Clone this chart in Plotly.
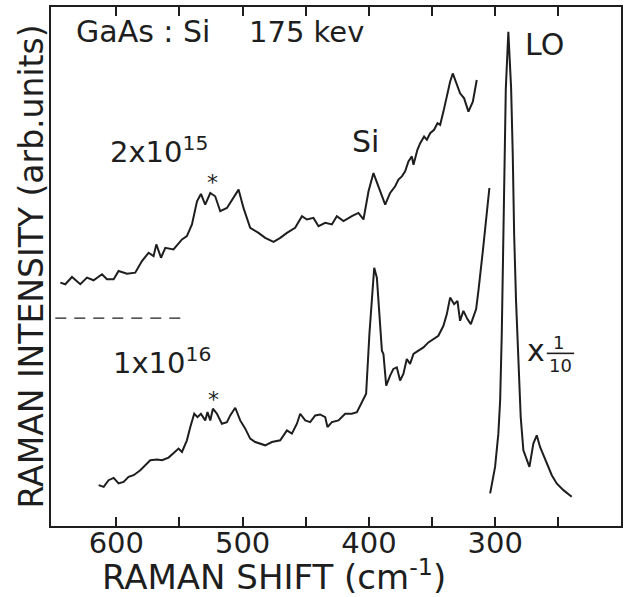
import plotly.graph_objects as go

# ---- data (wavenumber in cm^-1, intensity in arbitrary units) ----
upper_shift = [644.3, 640.4, 635.1, 628.5, 623.2, 618.0, 611.3, 607.4, 602.1, 598.2, 591.5, 585.0,
               579.7, 574.4, 570.5, 568.3, 564.6, 561.2, 554.7, 548.0, 544.1, 540.1, 536.1, 533.0,
               529.6, 525.6, 521.7, 517.7, 512.4, 507.2, 503.2, 499.3, 494.0, 487.4, 482.1, 475.5,
               470.2, 464.9, 458.4, 453.0, 449.1, 443.9, 439.9, 434.6, 429.3, 425.4, 420.1, 413.5,
               408.3, 404.3, 400.3, 396.4, 392.4, 387.1, 383.2, 379.2, 376.6, 373.9, 371.3, 368.7,
               366.0, 364.7, 361.6, 359.4, 356.3, 354.1, 351.5, 348.4, 345.7, 343.6, 341.0, 338.3,
               335.7, 333.6, 330.4, 327.8, 324.6, 321.2, 317.7, 314.6]
upper_int = [244.3, 242.7, 250, 242.7, 249.3, 246.7, 252.7, 247.7, 247.7, 256, 253.3, 254.3,
             266, 274.3, 271, 282.7, 269.3, 279.3, 277.7, 287.7, 291, 302.7, 326, 333.3,
             322.7, 334.3, 331, 316, 319.3, 329.3, 337.7, 319.3, 299.3, 294.3, 289.3, 285.3,
             289.3, 294.3, 299.3, 311, 307.7, 309.3, 301, 304.3, 302.7, 311, 306, 311,
             314.3, 307.7, 336, 354.3, 341, 322.7, 334.3, 341, 347.7, 351, 356, 366,
             371, 362.7, 377.7, 384.3, 391, 387.7, 394.3, 397.7, 404.3, 402.7, 416, 432.7,
             446, 454.3, 442.7, 434.3, 429.3, 416, 426, 447.7]

lower_shift = [614.0, 610.0, 606.1, 602.1, 598.2, 594.2, 590.3, 586.3, 581.0, 577.1, 573.1, 567.8,
               563.8, 558.6, 554.7, 550.7, 548.0, 544.1, 541.4, 538.3, 535.7, 533.0, 529.6, 527.8,
               525.6, 523.5, 520.3, 516.4, 512.4, 509.8, 505.8, 501.9, 497.9, 494.0, 490.0, 486.0,
               482.1, 476.8, 470.2, 464.9, 461.0, 457.0, 454.4, 450.4, 446.5, 442.5, 438.6, 434.6,
               432.8, 429.3, 424.1, 418.8, 413.5, 409.5, 407.5, 402.2, 399.6, 397.7, 395.8, 393.7,
               391.6, 389.7, 388.5, 386.3, 383.2, 380.6, 377.9, 375.3, 372.7, 370.0, 367.4, 364.7,
               360.8, 356.8, 352.9, 348.9, 345.0, 341.0, 338.3, 335.7, 332.5, 329.9, 327.8, 325.2,
               322.0, 319.3, 316.7, 315.1, 313.3, 311.4, 309.8, 304.6]
lower_int = [41, 39.3, 46, 48.3, 42.7, 44.3, 49.3, 51, 56, 61, 66, 66.7,
             66, 68.7, 72.7, 77.7, 74.3, 86, 99.3, 112.7, 109.3, 112.7, 106, 114.3,
             106, 117.7, 112.7, 102.7, 104.3, 111, 118.7, 106, 97.7, 87.7, 84.3, 82.7,
             81, 84.3, 86, 96, 92.7, 102.7, 112.7, 106, 104.3, 111, 112, 109.3,
             99.3, 104.3, 106, 112.7, 112.7, 114.3, 119.3, 132.7, 192.7, 226, 259.3, 249.3,
             209.3, 176, 172.7, 141, 151, 157.7, 159.3, 146, 152.7, 167.7, 162.7, 172.7,
             176, 179.3, 184.3, 187.7, 191, 201, 212.7, 229.3, 222.7, 226, 206, 216,
             207.7, 202.7, 212.7, 217.7, 236, 256, 276, 339.3]

lo_shift = [304.0, 300.1, 297.5, 296.1, 294.8, 294.0, 293.2, 292.8, 291.6, 289.6, 287.4, 286.1,
            285.3, 285.0, 283.5, 281.6, 279.8, 277.7, 274.5, 272.9, 269.8, 267.1, 264.5, 259.2,
            255.2, 251.3, 246.0, 239.4]
lo_int = [32.7, 59.3, 92.7, 126, 192.7, 259.3, 326, 372.7, 439.3, 496, 439.3, 372.7,
          306, 292.7, 226, 159.3, 109.3, 76, 64.3, 59.3, 82.7, 91, 79.3, 62.7,
          51, 42.7, 36, 29.3]

baseline_shift = [648.3, 547.0]
baseline_int = [208.7, 208.7]

major_ticks = [600, 500, 400, 300]
major_labels = ["600", "500", "400", "300"]
minor_ticks = [550, 450, 350, 250]

INK = "#1e1e1e"
FONT = "DejaVu Sans"

fig = go.Figure()
line_style = dict(color=INK, width=2)
fig.add_trace(go.Scatter(x=upper_shift, y=upper_int, mode="lines", line=line_style, hoverinfo="skip"))
fig.add_trace(go.Scatter(x=lower_shift, y=lower_int, mode="lines", line=line_style, hoverinfo="skip"))
fig.add_trace(go.Scatter(x=lo_shift, y=lo_int, mode="lines", line=line_style, hoverinfo="skip"))
fig.add_trace(go.Scatter(x=baseline_shift, y=baseline_int, mode="lines",
                         line=dict(color=INK, width=1.4, dash="11px,8px"), hoverinfo="skip"))

def note(text, x, y, size=30, xanchor="center", yanchor="middle", **kw):
    fig.add_annotation(text=text, x=x, y=y, xref="x", yref="y", showarrow=False,
                       xanchor=xanchor, yanchor=yanchor,
                       font=dict(family=FONT, size=size, color=INK), **kw)

note("GaAs : Si", 633.5, 496, size=30, xanchor="left")
note("175 kev", 496.3, 496, size=29, xanchor="left")
note("2x10<sup>15</sup>", 606.3, 377, size=29, xanchor="left")
note("Si", 403, 386)
note("LO", 261.3, 483)
note("1x10<sup>16</sup>", 604.0, 166, size=29, xanchor="left")
note("*", 523.5, 345, size=22)
note("*", 523.0, 127, size=22)
note("x", 267.6, 176, size=30)
note("1", 249.5, 184, size=18)
note("10", 248.0, 161, size=18)
fig.add_shape(type="line", x0=259.2, x1=237.5, y0=173.3, y1=173.3, xref="x", yref="y",
              line=dict(color=INK, width=1.6))

# axis titles as annotations for exact placement
fig.add_annotation(text="RAMAN SHIFT (cm<sup>-1</sup>)", x=475, y=0, xref="x", yref="paper",
                   yanchor="middle", yshift=-49, showarrow=False,
                   font=dict(family=FONT, size=34, color=INK))
fig.add_annotation(text="RAMAN INTENSITY (arb.units)", x=0, y=0.5, xref="paper", yref="paper",
                   xanchor="center", yanchor="middle", xshift=-20, textangle=-90, showarrow=False,
                   font=dict(family=FONT, size=33, color=INK))

fig.update_xaxes(range=[651.7, 200.4], tickmode="array", tickvals=major_ticks, ticktext=major_labels,
                 ticks="inside", ticklen=9, tickwidth=2, tickcolor=INK,
                 minor=dict(tickmode="array", tickvals=minor_ticks, ticks="inside",
                            ticklen=9, tickwidth=2, tickcolor=INK, showgrid=False),
                 showline=True, linecolor=INK, linewidth=2, mirror="allticks",
                 showgrid=False, zeroline=False,
                 tickfont=dict(family=FONT, size=29, color=INK), ticklabelstandoff=-10)
fig.update_yaxes(range=[0, 521], showticklabels=False, ticks="",
                 showline=True, linecolor=INK, linewidth=2, mirror=True,
                 showgrid=False, zeroline=False)

fig.update_layout(width=629, height=597, showlegend=False,
                  margin=dict(l=51, r=8, t=5, b=71),
                  paper_bgcolor="white", plot_bgcolor="white")

fig.write_html("out.html", config={"displayModeBar": False},
               post_script="document.body.style.margin='0';")
